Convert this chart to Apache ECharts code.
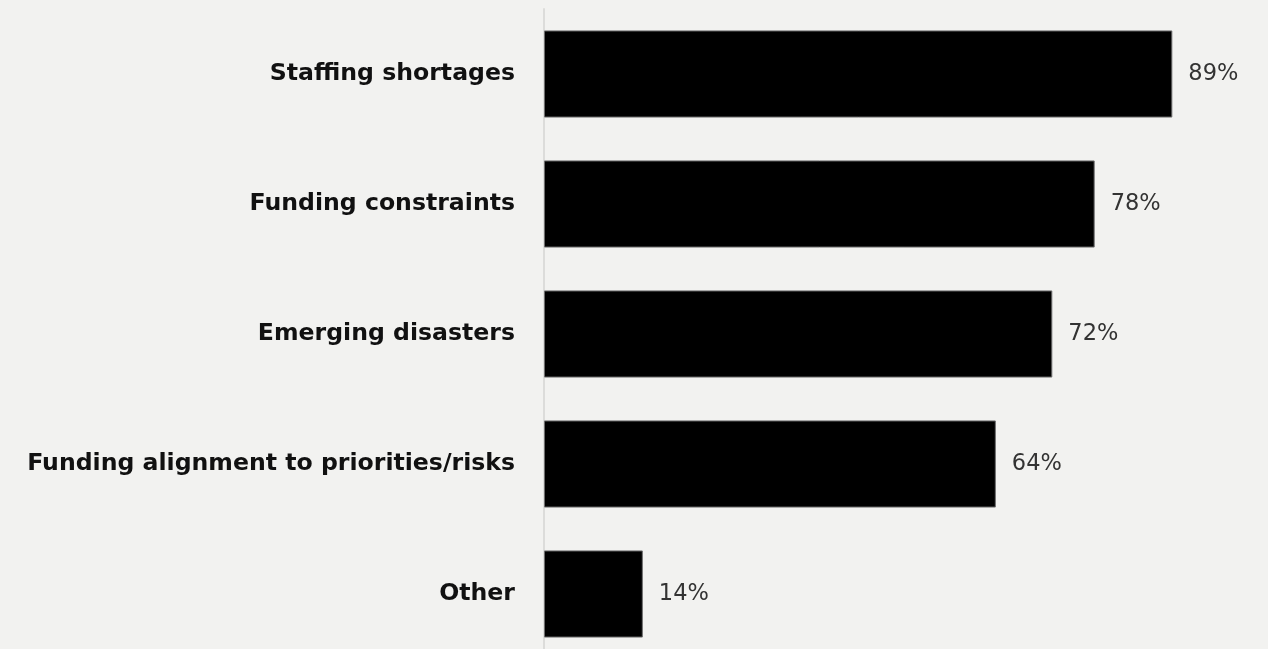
<!DOCTYPE html>
<html>
<head>
<meta charset="utf-8">
<script src="https://cdn.jsdelivr.net/npm/echarts@6/dist/echarts.min.js"></script>
<style>
  html, body { margin: 0; padding: 0; background: #f2f2f0; overflow: hidden; }
  /* taller than the window: the last band runs past the bottom edge */
  #chart { width: 1268px; height: 680px; }
</style>
</head>
<body>
<div id="chart"></div>
<script>
// Challenges reported, share of respondents (%)
const categories = [
  'Staffing shortages',
  'Funding constraints',
  'Emerging disasters',
  'Funding alignment to priorities/risks',
  'Other'
];
const shares = [89, 78, 72, 64, 14];

const chart = echarts.init(document.getElementById('chart'));
chart.setOption({
  backgroundColor: '#f2f2f0',
  animation: false,
  grid: { left: 544, right: 18, top: 9, height: 650 },
  xAxis: {
    type: 'value',
    min: 0,
    max: 100,
    show: false
  },
  yAxis: {
    type: 'category',
    data: categories,
    inverse: true,
    axisLine: { show: true, lineStyle: { color: '#dcdcda', width: 2 } },
    axisTick: { show: false },
    axisLabel: {
      margin: 29,
      color: '#111111',
      fontFamily: 'DejaVu Sans',
      fontWeight: 'bold',
      fontSize: 23.6
    }
  },
  series: [{
    type: 'bar',
    data: shares,
    barWidth: '67%',
    itemStyle: { color: '#000000', borderColor: '#6e6e6e', borderWidth: 1 },
    label: {
      show: true,
      position: 'right',
      distance: 16,
      formatter: '{c}%',
      color: '#333333',
      fontFamily: 'DejaVu Sans',
      fontSize: 22.5
    }
  }]
});
</script>
</body>
</html>
